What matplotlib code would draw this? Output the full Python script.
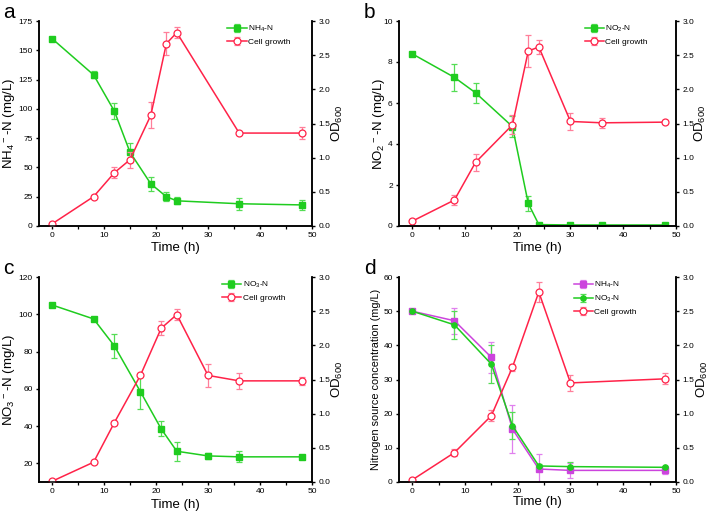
import matplotlib
matplotlib.use("Agg")
import matplotlib.pyplot as plt
from matplotlib.ticker import MultipleLocator

plt.rcParams['font.family'] = ['Liberation Sans', 'DejaVu Sans']
plt.rcParams['mathtext.default'] = 'regular'

GREEN = '#1fcc1f'
GREEN_ERR = '#55dd55'
RED = '#ff2248'
RED_ERR = '#ff7f9a'
MAG = '#cc44dd'
MAG_ERR = '#e080ee'

# panel a
t_a = [0, 8, 12, 15, 19, 22, 24, 36, 48]
nh4_a = [160, 129, 98, 63, 36, 25, 21.5, 19, 18]
nh4_a_err = [1, 3, 7, 8, 6, 4, 3, 5, 4]
od_a = [0.03, 0.43, 0.78, 0.97, 1.62, 2.67, 2.83, 1.36, 1.36]
od_a_err = [0.01, 0.02, 0.08, 0.12, 0.19, 0.17, 0.08, 0.02, 0.09]

# panel b
t_b = [0, 8, 12, 19, 22, 24, 30, 36, 48]
no2_b = [8.4, 7.25, 6.5, 4.85, 1.1, 0.07, 0.05, 0.05, 0.05]
no2_b_err = [0.05, 0.65, 0.5, 0.5, 0.38, 0.02, 0.02, 0.02, 0.02]
od_b = [0.07, 0.38, 0.93, 1.48, 2.56, 2.62, 1.53, 1.51, 1.52]
od_b_err = [0.01, 0.07, 0.13, 0.14, 0.23, 0.1, 0.13, 0.07, 0.03]

# panel c
t_c = [0, 8, 12, 17, 21, 24, 30, 36, 48]
no3_c = [105, 97.5, 83, 58.5, 38.5, 26.5, 24, 23.5, 23.5]
no3_c_err = [0.5, 1, 6.5, 9.5, 4, 5, 1.5, 3, 1]
od_c = [0.01, 0.29, 0.87, 1.56, 2.25, 2.45, 1.56, 1.48, 1.48]
od_c_err = [0.01, 0.01, 0.03, 0.01, 0.1, 0.08, 0.17, 0.12, 0.06]

# panel d
t_d = [0, 8, 15, 19, 24, 30, 48]
nh4_d = [50, 47.2, 36.5, 15.5, 3.8, 3.4, 3.4]
nh4_d_err = [0.5, 3.8, 4.5, 7, 4.5, 2.2, 1.2]
no3_d = [50, 46, 34.5, 16.5, 4.7, 4.5, 4.3]
no3_d_err = [0.5, 4, 5.5, 4, 0.5, 1.5, 0.5]
od_d = [0.03, 0.43, 0.97, 1.68, 2.78, 1.45, 1.51]
od_d_err = [0.01, 0.05, 0.08, 0.05, 0.15, 0.12, 0.08]

fig = plt.figure(figsize=(7.1, 5.15), dpi=100)
W, H = 710, 515


def make_axes(x0, y0, x1, y1):
    return fig.add_axes([x0 / W, 1 - y1 / H, (x1 - x0) / W, (y1 - y0) / H])


def style(ax, ax2, ylab_x, od_x, xlab_y):
    for a in (ax, ax2):
        a.spines['top'].set_visible(False)
        for s in a.spines.values():
            s.set_linewidth(1.1)
        a.tick_params(labelsize=6, width=1.0, length=2.5, pad=2)
        a.tick_params(which='minor', width=0.9, length=1.8)
    ax.set_xlim(-2.5, 50)
    ax.xaxis.set_major_locator(MultipleLocator(10))
    ax.xaxis.set_minor_locator(MultipleLocator(5))
    ax.set_xlabel('Time (h)', fontsize=9.5, va='center')
    ax.xaxis.set_label_coords(0.5, xlab_y)
    ax.yaxis.label.set_va('center')
    ax.yaxis.set_label_coords(ylab_x, 0.5)
    ax2.set_ylim(0, 3.0)
    ax2.yaxis.set_major_locator(MultipleLocator(0.5))
    ax2.yaxis.set_major_formatter(plt.FormatStrFormatter('%.1f'))
    ax2.set_ylabel('OD$_{600}$', fontsize=9.5, va='center')
    ax2.yaxis.set_label_coords(od_x, 0.5)


def nitrogen(ax, t, y, e, color, ecolor, marker, label):
    ax.errorbar(t, y, yerr=e, color=color, ecolor=ecolor, marker=marker,
                markersize=3.8, lw=1.1, elinewidth=0.9, capsize=2,
                capthick=0.9, label=label)


def growth(ax2, t, y, e):
    return ax2.errorbar(t, y, yerr=e, color=RED, ecolor=RED_ERR, marker='o',
                        markersize=5, mfc='white', mec=RED, mew=0.9, lw=1.1,
                        elinewidth=0.9, capsize=2, capthick=0.9,
                        label='Cell growth')


def legend(ax, ax2, x_anchor):
    h1, l1 = ax.get_legend_handles_labels()
    h2, l2 = ax2.get_legend_handles_labels()
    ax2.legend(h1 + h2, l1 + l2, loc='upper left', bbox_to_anchor=(x_anchor, 0.985),
               frameon=False, fontsize=6, handlelength=2.3, handletextpad=0.2,
               labelspacing=0.45, borderaxespad=0, borderpad=0)


# a
ax = make_axes(39, 21, 312, 226)
ax2 = ax.twinx()
nitrogen(ax, t_a, nh4_a, nh4_a_err, GREEN, GREEN_ERR, 's', 'NH$_4$-N')
growth(ax2, t_a, od_a, od_a_err)
ax.set_ylim(0, 175)
ax.yaxis.set_major_locator(MultipleLocator(25))
ax.set_ylabel('NH$_4$$^-$-N (mg/L)', fontsize=9.5)
style(ax, ax2, -0.11, 1.095, -0.107)
legend(ax, ax2, 0.69)
fig.text(3 / W, 1 - 12 / H, 'a', fontsize=15, va='center')

# b
ax = make_axes(399, 21, 676, 226)
ax2 = ax.twinx()
nitrogen(ax, t_b, no2_b, no2_b_err, GREEN, GREEN_ERR, 's', 'NO$_2$-N')
growth(ax2, t_b, od_b, od_b_err)
ax.set_ylim(0, 10)
ax.yaxis.set_major_locator(MultipleLocator(2))
ax.set_ylabel('NO$_2$$^-$-N (mg/L)', fontsize=9.5)
style(ax, ax2, -0.072, 1.09, -0.107)
legend(ax, ax2, 0.67)
fig.text(364 / W, 1 - 12 / H, 'b', fontsize=15, va='center')

# c
ax = make_axes(39, 277, 312, 482)
ax2 = ax.twinx()
nitrogen(ax, t_c, no3_c, no3_c_err, GREEN, GREEN_ERR, 's', 'NO$_3$-N')
growth(ax2, t_c, od_c, od_c_err)
ax.set_ylim(10, 120)
ax.yaxis.set_major_locator(MultipleLocator(20))
ax.set_ylabel('NO$_3$$^-$-N (mg/L)', fontsize=9.5)
style(ax, ax2, -0.11, 1.095, -0.112)
legend(ax, ax2, 0.67)
fig.text(3 / W, 1 - 268 / H, 'c', fontsize=15, va='center')

# d
ax = make_axes(399, 277, 676, 482)
ax2 = ax.twinx()
nitrogen(ax, t_d, nh4_d, nh4_d_err, MAG, MAG_ERR, 's', 'NH$_4$-N')
nitrogen(ax, t_d, no3_d, no3_d_err, GREEN, GREEN_ERR, 'o', 'NO$_3$-N')
growth(ax2, t_d, od_d, od_d_err)
ax.set_ylim(0, 60)
ax.yaxis.set_major_locator(MultipleLocator(10))
ax.set_ylabel('Nitrogen source concentration (mg/L)', fontsize=7.8)
style(ax, ax2, -0.083, 1.095, -0.10)
legend(ax, ax2, 0.63)
fig.text(364 / W, 1 - 268 / H, 'd', fontsize=15, va='center')

fig.savefig('out.png', dpi=100)
